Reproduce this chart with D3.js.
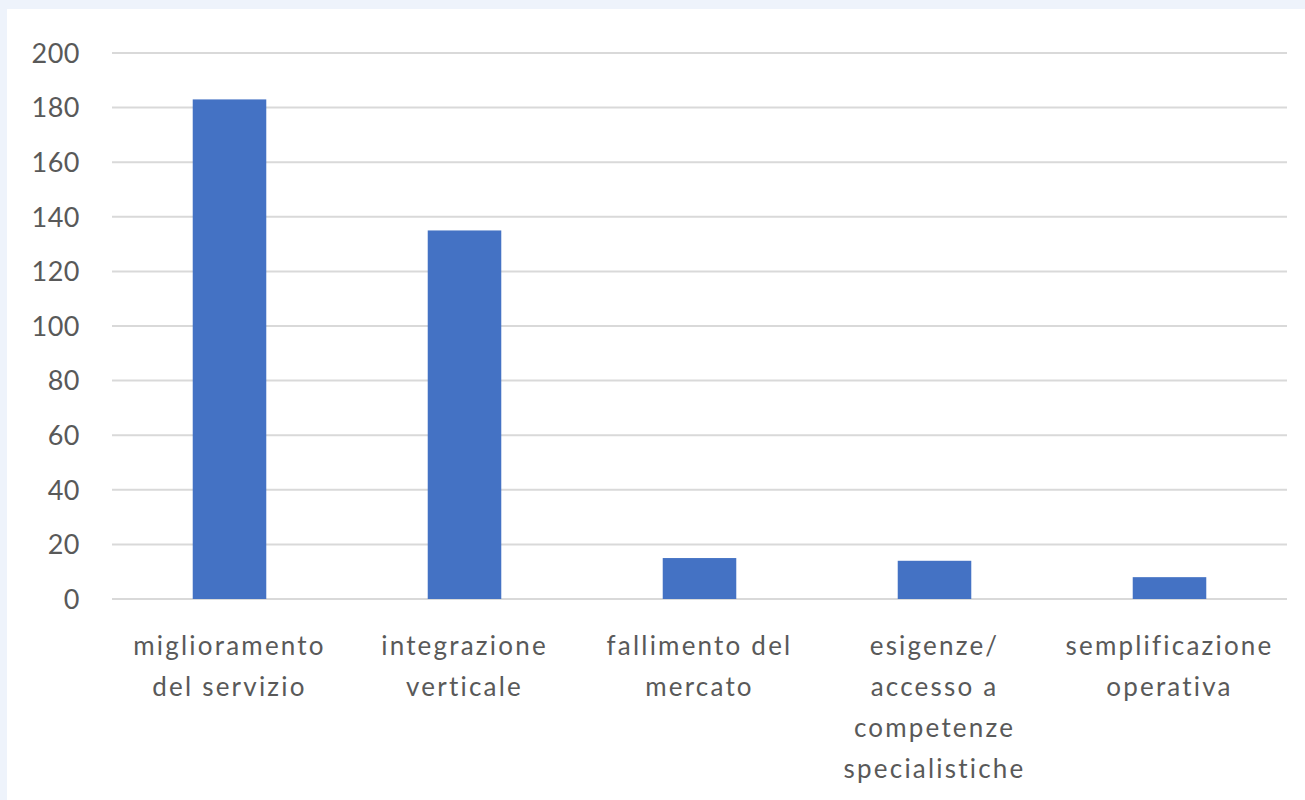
<html>
<head>
  <meta charset="utf-8">
  <title>chart</title>
  <script src="https://d3js.org/d3.v7.min.js"></script>
  <style>
    body { margin: 0; background: #eef3fb; }
  </style>
</head>
<body>
<script>
var categories = ["miglioramento del servizio", "integrazione verticale", "fallimento del mercato", "esigenze/ accesso a competenze specialistiche", "semplificazione operativa"];
var labelLines = [["miglioramento", "del servizio"], ["integrazione", "verticale"], ["fallimento del", "mercato"], ["esigenze/", "accesso a", "competenze", "specialistiche"], ["semplificazione", "operativa"]];
var values = [183, 135, 15, 14, 8];
var yTicks = [0, 20, 40, 60, 80, 100, 120, 140, 160, 180, 200];

var W = 1305, H = 800;
var margin = {top: 53, right: 18, bottom: 201, left: 112};
var width = W - margin.left - margin.right;
var height = H - margin.top - margin.bottom;

var svg = d3.select("body").append("svg")
  .attr("width", W).attr("height", H)
  .style("display", "block");

// white chart area with light border on top/left
svg.append("rect")
  .attr("x", 7).attr("y", 9)
  .attr("width", W - 7).attr("height", H - 9)
  .attr("fill", "#ffffff");

var g = svg.append("g")
  .attr("transform", "translate(" + margin.left + "," + margin.top + ")");

var x = d3.scaleBand()
  .domain(categories)
  .range([0, width])
  .paddingInner(0.687)
  .paddingOuter(0.3435);

var y = d3.scaleLinear()
  .domain([0, 200])
  .range([height, 0]);

// gridlines
g.selectAll(".grid")
  .data(yTicks)
  .enter().append("line")
  .attr("x1", 0).attr("x2", width)
  .attr("y1", function(d){ return y(d); })
  .attr("y2", function(d){ return y(d); })
  .attr("stroke", "#d9d9d9")
  .attr("stroke-width", 2);

// y labels
g.selectAll(".ylab")
  .data(yTicks)
  .enter().append("text")
  .attr("x", -32)
  .attr("y", function(d){ return y(d); })
  .attr("dy", "0.36em")
  .attr("text-anchor", "end")
  .attr("fill", "#595959")
  .style("font-family", "Lato, 'Open Sans', sans-serif")
  .style("font-size", "27px")
  .style("letter-spacing", "0.5px")
  .text(function(d){ return d; });

// bars
g.selectAll(".bar")
  .data(values)
  .enter().append("rect")
  .attr("x", function(d, i){ return x(categories[i]); })
  .attr("width", x.bandwidth())
  .attr("y", function(d){ return y(d); })
  .attr("height", function(d){ return height - y(d); })
  .attr("fill", "#4472c4");

// x labels
var xl = g.selectAll(".xlab")
  .data(categories)
  .enter().append("text")
  .attr("transform", function(d){ return "translate(" + (x(d) + x.bandwidth()/2) + "," + (height + 56) + ")"; })
  .attr("text-anchor", "middle")
  .attr("fill", "#595959")
  .style("font-family", "Lato, 'Open Sans', sans-serif")
  .style("font-size", "26px")
  .style("letter-spacing", "2.2px");

xl.each(function(d, i){
  var t = d3.select(this);
  labelLines[i].forEach(function(line, j){
    t.append("tspan").attr("x", 0).attr("y", j * 41).text(line);
  });
});
</script>
</body>
</html>
